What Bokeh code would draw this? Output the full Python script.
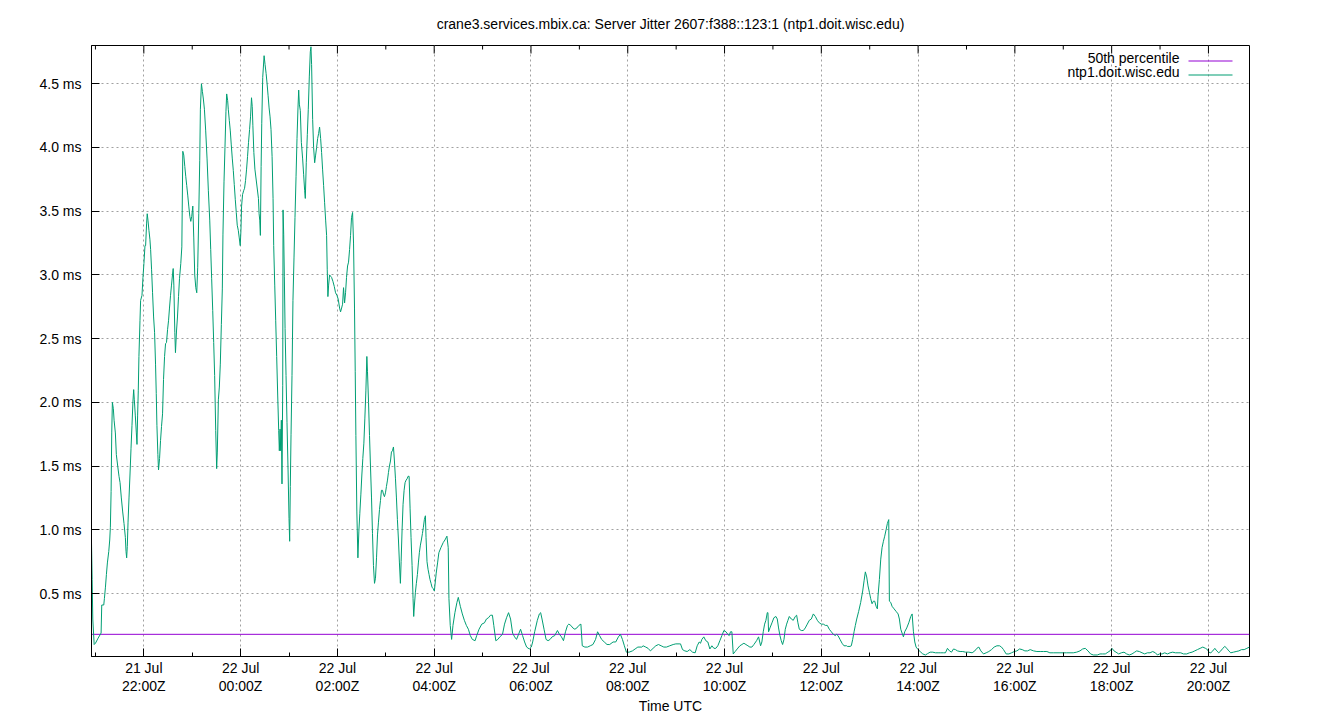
import numpy as np
import pandas as pd
from bokeh.plotting import figure
from bokeh.models import Range1d, FixedTicker, PrintfTickFormatter, Label
from bokeh.embed import file_html
from bokeh.resources import INLINE

# ---------------- data ----------------
BASE_TIME = "2023-07-21 20:00"   # minutes below are counted from this instant (UTC)

minutes_a = [55.1, 55.9, 56.7, 58.4, 60.0, 63.3, 67.0, 67.8, 70.3, 71.1,
             72.4, 73.6, 74.8, 76.5, 77.7, 78.5, 79.4, 80.2, 81.0, 82.2,
             83.1, 84.7, 85.9, 87.6, 89.2, 90.5, 92.1, 93.8, 95.4, 97.1,
             97.9, 98.7, 99.5, 100.4, 101.6, 102.8, 104.1, 105.3, 106.5, 107.4,
             108.2, 109.4, 110.7, 111.5, 112.3, 113.1, 113.9, 115.2, 116.0, 117.7,
             118.9, 120.1, 121.4, 122.2, 123.4, 124.2, 125.1, 126.3, 127.5, 128.4,
             129.6, 130.8, 132.1, 133.3, 134.5, 135.4, 136.2, 137.4, 138.2, 139.5,
             140.7, 141.9, 143.2, 144.4, 145.7, 146.9, 148.1, 149.4, 150.6, 151.8,
             153.1, 154.3, 155.5, 156.4, 157.2, 158.4, 159.2, 160.5, 161.7, 163.0,
             164.2, 165.8, 167.1, 168.3, 169.5, 170.8, 172.0, 173.2, 174.5, 175.7,
             177.0, 178.2, 179.4, 180.7, 181.9, 183.1, 184.4, 185.6, 186.8, 188.1,
             189.3, 190.1, 191.4, 192.6, 193.8, 195.1, 196.7, 198.4, 200.0, 201.7,
             202.9, 204.1, 205.4, 206.6, 207.8, 209.1, 210.3, 211.1, 212.4, 213.6,
             214.8, 216.1, 217.3, 218.1, 219.4, 220.6, 221.8, 222.7, 223.9, 224.7,
             226.0, 227.2, 228.4, 229.7, 230.9, 232.1, 233.4, 234.6, 235.8, 237.1,
             238.3, 239.5, 240.4, 241.2, 242.4, 243.7, 244.9, 246.1, 247.4, 248.6,
             249.8, 251.1, 252.3, 253.5, 254.4, 255.2, 256.4, 257.7]
jitter_a = [0.90, 0.61, 0.30, 0.10, 0.11, 0.15, 0.19, 0.41, 0.41, 0.46,
            0.55, 0.65, 0.74, 0.83, 0.92, 1.02, 1.30, 1.76, 2.00, 1.95,
            1.86, 1.76, 1.59, 1.50, 1.42, 1.37, 1.25, 1.14, 1.05, 0.94,
            0.83, 0.78, 0.87, 1.06, 1.25, 1.43, 1.64, 1.82, 2.01, 2.10,
            2.02, 1.90, 1.76, 1.67, 1.90, 2.09, 2.36, 2.64, 2.80, 2.84,
            2.98, 3.09, 3.23, 3.23, 3.40, 3.48, 3.43, 3.35, 3.28, 3.20,
            3.04, 2.86, 2.67, 2.55, 2.30, 2.07, 1.82, 1.59, 1.47, 1.56,
            1.70, 1.81, 1.91, 2.18, 2.36, 2.46, 2.47, 2.57, 2.64, 2.74,
            2.84, 2.92, 3.00, 3.05, 2.92, 2.55, 2.39, 2.56, 2.67, 2.83,
            2.97, 3.09, 3.22, 3.97, 3.94, 3.85, 3.77, 3.70, 3.62, 3.54,
            3.46, 3.42, 3.46, 3.54, 3.29, 3.00, 2.90, 2.86, 3.06, 3.48,
            3.90, 4.30, 4.50, 4.44, 4.38, 4.30, 4.13, 3.91, 3.66, 3.43,
            3.20, 2.97, 2.72, 2.47, 2.21, 1.78, 1.48, 1.61, 2.02, 2.12,
            2.30, 2.61, 2.89, 3.32, 3.73, 4.00, 4.28, 4.42, 4.37, 4.30,
            4.21, 4.13, 4.02, 3.91, 3.82, 3.71, 3.59, 3.49, 3.39, 3.35,
            3.29, 3.23, 3.35, 3.54, 3.63, 3.66, 3.68, 3.74, 3.83, 3.93,
            4.04, 4.14, 4.24, 4.39, 4.32, 4.17, 3.96, 3.83]

minutes_b = [262.1, 262.9, 263.7, 264.5, 265.4, 266.2, 267.4, 269.1, 270.3, 271.6,
             272.8, 274.0, 275.3, 276.5, 277.7, 279.0, 280.2, 281.0, 282.3, 283.5,
             284.7, 286.0, 287.2, 288.0, 288.9, 289.7, 290.5, 291.3, 292.2, 292.6,
             293.4, 294.2, 295.1, 296.3, 297.5, 298.8, 300.0, 300.8, 301.6, 302.5,
             303.7, 304.9, 306.2, 307.4, 308.7, 309.9, 311.1, 312.0, 312.8, 314.0,
             315.3, 316.9, 318.1, 319.4, 320.2, 321.4, 322.7, 323.9, 325.2, 326.4,
             327.2, 328.0, 329.3, 330.5, 331.8, 333.0, 334.2, 335.5, 336.7, 337.9,
             339.2, 340.4, 341.6, 342.9, 344.1, 345.4, 346.6, 347.4, 348.2, 349.1,
             350.3, 351.5, 352.8, 354.4, 356.1, 357.7, 359.4, 361.0, 362.7, 363.9,
             365.2, 366.4, 367.6, 368.9, 370.1, 371.3, 372.6, 373.8, 375.1, 376.3,
             377.5, 378.8, 380.0, 381.2, 382.1, 382.9, 384.1, 385.4, 386.6, 387.8,
             389.1, 390.3, 391.5, 392.8, 394.0, 395.3, 396.5, 397.3, 398.6, 399.8,
             401.0, 402.3, 403.5, 404.7, 406.0, 407.2, 408.5, 409.7, 410.9, 412.2,
             413.4, 414.6, 415.9, 417.1, 418.3, 419.6, 420.8, 422.1, 423.3, 424.5,
             425.8, 427.0, 428.2, 429.5, 430.7, 432.0, 433.2, 434.4, 435.7, 436.9,
             438.1, 439.0, 440.2, 441.4, 442.7, 443.9, 445.2, 446.4, 447.6, 448.9,
             450.1, 451.3, 452.6, 453.8, 454.6, 455.5, 456.7, 457.9, 459.2, 460.4,
             461.6, 462.9, 464.1, 465.4, 466.6, 467.8, 469.1, 469.9, 471.1, 472.4,
             473.6, 474.8, 476.1, 477.3, 478.6, 480.2]
jitter_b = [3.60, 3.48, 3.43, 3.31, 3.85, 4.19, 4.55, 4.72, 4.65, 4.58,
            4.50, 4.41, 4.31, 4.24, 4.14, 3.93, 3.60, 3.23, 2.92, 2.64,
            2.36, 2.05, 1.78, 1.62, 1.79, 1.62, 1.86, 1.36, 2.13, 3.51,
            3.32, 2.99, 2.58, 2.21, 1.84, 1.47, 1.09, 0.91, 1.34, 1.75,
            2.21, 2.80, 3.14, 3.45, 3.77, 4.07, 4.31, 4.45, 4.34, 4.29,
            4.04, 3.91, 3.79, 3.66, 3.60, 3.88, 4.10, 4.30, 4.56, 4.75,
            4.79, 4.65, 4.22, 4.00, 3.88, 3.94, 4.00, 4.07, 4.11, 4.16,
            4.07, 3.96, 3.83, 3.70, 3.57, 3.43, 3.31, 3.04, 2.83, 2.92,
            3.00, 2.99, 2.98, 2.95, 2.91, 2.86, 2.84, 2.81, 2.74, 2.71,
            2.74, 2.77, 2.90, 2.78, 2.86, 2.98, 3.07, 3.10, 3.20, 3.31,
            3.45, 3.49, 3.25, 2.74, 2.24, 1.74, 1.14, 0.78, 0.99, 1.13,
            1.28, 1.43, 1.56, 1.68, 1.87, 2.09, 2.36, 2.24, 2.00, 1.74,
            1.50, 1.25, 0.97, 0.72, 0.58, 0.62, 0.78, 0.96, 1.06, 1.16,
            1.23, 1.31, 1.31, 1.28, 1.26, 1.29, 1.34, 1.39, 1.45, 1.50,
            1.54, 1.61, 1.62, 1.65, 1.54, 1.40, 1.25, 1.08, 0.92, 0.74,
            0.58, 0.75, 1.00, 1.20, 1.31, 1.37, 1.39, 1.40, 1.42, 1.42,
            1.17, 0.94, 0.72, 0.46, 0.32, 0.41, 0.51, 0.58, 0.65, 0.74,
            0.82, 0.88, 0.92, 0.97, 1.02, 1.08, 1.11, 0.94, 0.75, 0.69,
            0.65, 0.61, 0.58, 0.55, 0.54, 0.52]

minutes_c = [482.5, 484.2, 485.8, 488.3, 491.2, 493.3, 495.8, 497.4, 498.3, 499.9,
             501.6, 503.3, 505.7, 508.2, 509.9, 512.4, 514.9, 517.4, 519.9, 522.4,
             524.8, 527.3, 530.7, 532.7, 535.6, 539.0, 542.3, 544.8, 547.3, 549.8,
             552.2, 553.9, 556.4, 558.9, 561.4, 564.7, 567.2, 569.7, 572.2, 574.7,
             577.2, 579.7, 582.1, 584.6, 587.1, 589.6, 592.1, 594.6, 597.9, 600.4,
             602.1, 604.6, 607.9, 610.4, 612.0, 613.7, 616.2, 618.7, 621.2, 623.7,
             626.2, 629.5, 632.8, 635.3, 637.8, 640.3, 642.8, 645.3, 646.9, 649.4,
             651.9, 654.4, 656.9, 659.4, 661.9, 663.6, 666.8, 670.2, 673.5, 676.8,
             680.1, 682.6, 685.1, 687.6, 690.9, 694.3, 697.6, 701.8, 705.1, 708.4,
             710.9, 713.4, 715.8, 718.3, 721.7, 725.8, 729.1, 732.5, 737.4]
jitter_c = [0.66, 0.74, 0.82, 0.86, 0.90, 0.92, 0.95, 0.86, 0.46, 0.25,
            0.14, 0.25, 0.35, 0.43, 0.47, 0.40, 0.34, 0.29, 0.25, 0.22,
            0.17, 0.14, 0.13, 0.17, 0.22, 0.26, 0.27, 0.30, 0.31, 0.33,
            0.33, 0.25, 0.13, 0.14, 0.16, 0.18, 0.26, 0.31, 0.35, 0.30,
            0.19, 0.16, 0.14, 0.18, 0.22, 0.17, 0.12, 0.08, 0.065, 0.08,
            0.12, 0.20, 0.29, 0.34, 0.35, 0.30, 0.22, 0.14, 0.13, 0.14,
            0.16, 0.17, 0.21, 0.18, 0.16, 0.13, 0.20, 0.25, 0.26, 0.25,
            0.23, 0.22, 0.23, 0.25, 0.26, 0.09, 0.08, 0.08, 0.09, 0.10,
            0.14, 0.20, 0.17, 0.14, 0.12, 0.10, 0.10, 0.12, 0.12, 0.16,
            0.18, 0.14, 0.09, 0.04, 0.04, 0.05, 0.065, 0.08, 0.08]

minutes_d = [739.0, 742.3, 745.2, 748.1, 751.4, 754.8, 758.1, 761.4, 764.7, 768.0,
             772.1, 776.3, 779.6, 783.7, 785.4, 787.9, 790.8, 793.7, 797.0, 800.3,
             803.6, 806.1, 808.6, 810.2, 811.9, 814.3, 816.8, 819.3, 821.8, 824.3,
             826.8, 829.2, 831.7, 834.2, 836.7, 839.2, 841.7, 844.1, 845.8, 847.4,
             849.1, 850.8, 853.2, 855.7, 859.0, 861.5, 864.0, 866.5, 869.0, 871.4,
             873.9, 876.4, 879.7, 882.2, 884.7, 886.3, 888.0, 889.7, 891.3, 893.0,
             893.8, 894.6, 896.3, 898.8, 901.2, 903.7, 905.4, 907.0, 908.7, 910.3,
             912.0, 913.7, 915.3, 917.0, 918.6, 920.3, 922.8, 925.2, 927.7, 929.4,
             931.0, 932.7, 935.2, 937.7, 940.1, 942.6, 945.1, 947.6, 950.1, 952.6,
             955.0, 957.5, 960.0, 962.5, 965.0, 967.4, 969.9, 972.4, 974.9, 977.4,
             979.0, 980.7, 983.2, 985.7, 988.1, 991.5]
jitter_d = [0.09, 0.08, 0.07, 0.05, 0.07, 0.09, 0.10, 0.09, 0.08, 0.08,
            0.09, 0.10, 0.105, 0.105, 0.105, 0.06, 0.05, 0.045, 0.06, 0.04,
            0.035, 0.09, 0.12, 0.11, 0.14, 0.16, 0.13, 0.12, 0.065, 0.09,
            0.07, 0.07, 0.09, 0.13, 0.17, 0.21, 0.20, 0.18, 0.17, 0.20,
            0.20, 0.026, 0.045, 0.065, 0.09, 0.10, 0.11, 0.10, 0.09, 0.08,
            0.08, 0.10, 0.13, 0.16, 0.09, 0.12, 0.20, 0.26, 0.29, 0.35,
            0.35, 0.20, 0.23, 0.27, 0.31, 0.32, 0.30, 0.23, 0.17, 0.13,
            0.10, 0.14, 0.22, 0.26, 0.29, 0.32, 0.30, 0.29, 0.32, 0.33,
            0.27, 0.22, 0.21, 0.21, 0.23, 0.26, 0.29, 0.30, 0.34, 0.32,
            0.29, 0.27, 0.26, 0.26, 0.25, 0.25, 0.22, 0.20, 0.18, 0.17,
            0.18, 0.17, 0.14, 0.11, 0.09, 0.09]

minutes_e = [992.3, 995.6, 997.2, 998.9, 1000.6, 1002.2, 1003.9, 1006.3, 1008.8, 1011.3,
             1013.0, 1014.6, 1016.3, 1017.9, 1019.6, 1021.2, 1022.9, 1024.6, 1026.2, 1027.9,
             1029.5, 1030.3, 1032.0, 1033.7, 1035.3, 1037.0, 1038.6, 1040.3, 1041.9, 1043.6,
             1044.4, 1046.1, 1047.7, 1050.2, 1052.7, 1055.2, 1056.8, 1058.5, 1060.1, 1061.8,
             1063.4, 1065.9, 1068.4, 1070.9, 1072.6, 1074.2, 1075.9, 1077.5, 1080.0, 1082.5,
             1085.8, 1089.1, 1091.6, 1094.9, 1098.2, 1101.5, 1104.8, 1108.1, 1111.4, 1113.9,
             1116.4, 1118.9, 1121.4, 1123.9, 1126.3, 1128.8, 1132.1, 1135.4, 1138.8, 1142.9,
             1147.0, 1150.3, 1152.8, 1155.3, 1157.8, 1161.1, 1164.4, 1167.7, 1171.0, 1174.3,
             1177.7, 1181.0, 1183.4, 1185.9, 1189.2, 1192.6, 1195.9, 1199.2, 1202.5, 1205.8,
             1209.1, 1212.4, 1215.7, 1219.0, 1223.2, 1227.3, 1231.4, 1235.6, 1239.7]
jitter_e = [0.085, 0.085, 0.09, 0.14, 0.20, 0.25, 0.30, 0.36, 0.43, 0.52,
            0.60, 0.67, 0.63, 0.56, 0.51, 0.46, 0.42, 0.44, 0.44, 0.40,
            0.38, 0.48, 0.61, 0.77, 0.86, 0.91, 0.95, 1.00, 1.05, 1.08,
            0.44, 0.43, 0.40, 0.38, 0.36, 0.34, 0.30, 0.22, 0.19, 0.16,
            0.20, 0.23, 0.27, 0.32, 0.34, 0.20, 0.12, 0.08, 0.06, 0.045,
            0.026, 0.018, 0.028, 0.04, 0.04, 0.035, 0.035, 0.035, 0.035, 0.035,
            0.07, 0.05, 0.04, 0.065, 0.06, 0.05, 0.045, 0.045, 0.04, 0.04,
            0.035, 0.05, 0.07, 0.08, 0.05, 0.026, 0.035, 0.045, 0.06, 0.08,
            0.09, 0.09, 0.08, 0.06, 0.026, 0.026, 0.035, 0.045, 0.05, 0.065,
            0.06, 0.05, 0.05, 0.06, 0.05, 0.045, 0.045, 0.045, 0.045]

minutes_f = [1243.4, 1247.6, 1255.9, 1264.1, 1272.4, 1276.6, 1280.7, 1284.0, 1287.3, 1290.6,
             1293.9, 1297.2, 1302.2, 1305.5, 1308.8, 1312.1, 1315.4, 1317.9, 1320.4, 1322.9,
             1325.4, 1328.7, 1332.0, 1335.3, 1338.6, 1341.9, 1345.2, 1348.6, 1351.0, 1354.3,
             1357.7, 1361.0, 1364.3, 1367.6, 1370.9, 1374.2, 1376.7, 1379.2, 1382.5, 1385.8,
             1389.1, 1392.4, 1395.7, 1399.0, 1402.3, 1405.7, 1409.0, 1413.1, 1416.4, 1419.7,
             1423.0, 1426.3, 1429.7, 1433.0, 1436.3, 1438.8, 1440.4, 1442.9, 1445.4, 1447.9,
             1450.3, 1452.8, 1455.3, 1457.8, 1460.3, 1462.8, 1465.2, 1467.7, 1471.0, 1474.3,
             1477.7, 1481.0, 1484.3, 1487.6, 1490.9]
jitter_f = [0.035, 0.035, 0.035, 0.035, 0.035, 0.04, 0.05, 0.065, 0.07, 0.05,
            0.026, 0.018, 0.018, 0.026, 0.026, 0.026, 0.04, 0.05, 0.07, 0.05,
            0.04, 0.026, 0.035, 0.04, 0.026, 0.018, 0.026, 0.04, 0.05, 0.045,
            0.035, 0.026, 0.035, 0.035, 0.045, 0.035, 0.018, 0.026, 0.026, 0.035,
            0.026, 0.035, 0.04, 0.035, 0.035, 0.035, 0.026, 0.026, 0.035, 0.04,
            0.05, 0.06, 0.07, 0.08, 0.07, 0.06, 0.04, 0.035, 0.05, 0.07,
            0.05, 0.035, 0.05, 0.07, 0.085, 0.07, 0.05, 0.035, 0.04, 0.045,
            0.05, 0.06, 0.06, 0.07, 0.08]

median_ms = 0.18
y_min_ms, y_max_ms = 0.006, 4.8

y_ticks = [0.5, 1.0, 1.5, 2.0, 2.5, 3.0, 3.5, 4.0, 4.5]
x_tick_minutes = [120, 240, 360, 480, 600, 720, 840, 960, 1080, 1200, 1320, 1440]
x_tick_labels = ["21 Jul\n22:00Z", "22 Jul\n00:00Z", "22 Jul\n02:00Z", "22 Jul\n04:00Z",
                 "22 Jul\n06:00Z", "22 Jul\n08:00Z", "22 Jul\n10:00Z", "22 Jul\n12:00Z",
                 "22 Jul\n14:00Z", "22 Jul\n16:00Z", "22 Jul\n18:00Z", "22 Jul\n20:00Z"]
x_minor_minutes = [60, 180, 300, 420, 540, 660, 780, 900, 1020, 1140, 1260, 1380]

title_text = "crane3.services.mbix.ca: Server Jitter 2607:f388::123:1 (ntp1.doit.wisc.edu)"
series_names = ["50th percentile", "ntp1.doit.wisc.edu"]
COLOR_MEDIAN = "#9400d3"
COLOR_SERIES = "#009e73"
FONT = "Liberation Sans"

# ---------------- layout ----------------
FIG_W = 1340
FRAME_H = 611
BORDER_L, BORDER_R, BORDER_T, BORDER_B = 91, 91, 45, 64
FRAME_W = FIG_W - BORDER_L - BORDER_R
MAJOR_TICK, MINOR_TICK = 8, 4

# ---------------- build ----------------
minutes = minutes_a + minutes_b + minutes_c + minutes_d + minutes_e + minutes_f
jitter = jitter_a + jitter_b + jitter_c + jitter_d + jitter_e + jitter_f
assert len(minutes) == len(jitter)

base = pd.Timestamp(BASE_TIME)
times = base + pd.to_timedelta(np.array(minutes), unit="m")
tick_times = base + pd.to_timedelta(np.array(x_tick_minutes), unit="m")
minor_times = base + pd.to_timedelta(np.array(x_minor_minutes), unit="m")
base_ms = base.value / 1e6
x_lo, x_hi = times.min(), times.max()


def to_ms(m):
    return base_ms + m * 60000.0


p = figure(width=FIG_W, height=BORDER_T + FRAME_H + BORDER_B, x_axis_type="datetime",
           output_backend="svg", toolbar_location=None,
           x_range=Range1d(x_lo, x_hi),
           y_range=Range1d(y_min_ms, y_max_ms),
           min_border_left=BORDER_L, min_border_right=BORDER_R,
           min_border_top=BORDER_T, min_border_bottom=BORDER_B)

p.title.text = title_text
p.title.align = "center"
p.title.text_font = FONT
p.title.text_font_size = "14px"
p.title.text_font_style = "normal"
p.title.text_color = "black"
p.title.standoff = 27

p.background_fill_color = "white"
p.border_fill_color = "white"
p.outline_line_color = "black"
p.outline_line_width = 1
p.outline_line_alpha = 1

# grid
for g in (p.xgrid[0], p.ygrid[0]):
    g.grid_line_color = "#a0a0a0"
    g.grid_line_dash = "2 3"
    g.grid_line_width = 1

# median and series
p.line([x_lo, x_hi], [median_ms, median_ms], line_color=COLOR_MEDIAN, line_width=1)
p.line(times, jitter, line_color=COLOR_SERIES, line_width=1)

# y axis
ya = p.yaxis[0]
ya.ticker = FixedTicker(ticks=y_ticks, minor_ticks=[])
ya.formatter = PrintfTickFormatter(format="%.1f ms")
ya.major_tick_in = MAJOR_TICK
ya.major_tick_out = 0
ya.minor_tick_in = 0
ya.minor_tick_out = 0
ya.major_label_standoff = 10
ya.major_label_text_font = FONT
ya.major_label_text_font_size = "14px"
ya.major_label_text_color = "black"
ya.axis_line_color = "black"
ya.major_tick_line_color = "black"

# x axis
xa = p.xaxis[0]
tick_ms = [to_ms(m) for m in x_tick_minutes]
minor_ms = [to_ms(m) for m in x_minor_minutes]
xa.ticker = FixedTicker(ticks=tick_ms, minor_ticks=minor_ms)
xa.major_label_overrides = {t: lab for t, lab in zip(tick_ms, x_tick_labels)}
xa.major_tick_in = MAJOR_TICK
xa.major_tick_out = 0
xa.minor_tick_in = MINOR_TICK
xa.minor_tick_out = 0
xa.major_label_standoff = 3
xa.major_label_text_font = FONT
xa.major_label_text_font_size = "14px"
xa.major_label_text_color = "black"
xa.major_label_text_line_height = 1.15
xa.axis_label = "Time UTC"
xa.axis_label_text_font = FONT
xa.axis_label_text_font_size = "14px"
xa.axis_label_text_font_style = "normal"
xa.axis_label_text_color = "black"
xa.axis_label_text_line_height = 1.0
xa.axis_label_standoff = 1
xa.axis_line_color = "black"
xa.major_tick_line_color = "black"
xa.minor_tick_line_color = "black"

# pixel -> data conversion helpers for decorations
py = (y_max_ms - y_min_ms) / FRAME_H
px = (x_hi - x_lo) / FRAME_W


def fx(pix):   # frame pixel (from left) -> datetime
    return x_lo + px * pix


def fy(pix):   # frame pixel (from top) -> data y
    return y_max_ms - py * pix


# mirrored tick marks on the top border (gnuplot style)
p.segment(x0=tick_times, y0=[y_max_ms] * len(tick_times),
          x1=tick_times, y1=[fy(MAJOR_TICK)] * len(tick_times),
          line_color="black", line_width=1)
p.segment(x0=minor_times, y0=[y_max_ms] * len(minor_times),
          x1=minor_times, y1=[fy(MINOR_TICK)] * len(minor_times),
          line_color="black", line_width=1)

# legend (text right-aligned, sample line to its right, as in the original)
for i, (name, col) in enumerate(zip(series_names, [COLOR_MEDIAN, COLOR_SERIES])):
    y_text = FRAME_H - 12 - 14 * i          # screen units, from frame bottom
    p.add_layout(Label(x=1088, y=y_text, x_units="screen", y_units="screen", text=name,
                       text_align="right", text_baseline="middle", text_font=FONT,
                       text_font_size="14px", text_color="black"))
    y_line = fy(15.5 + 14 * i)
    p.segment(x0=[fx(1097)], y0=[y_line], x1=[fx(1141)], y1=[y_line],
              line_color=col, line_width=1.2)

open("out.html", "w").write(file_html(p, INLINE))
